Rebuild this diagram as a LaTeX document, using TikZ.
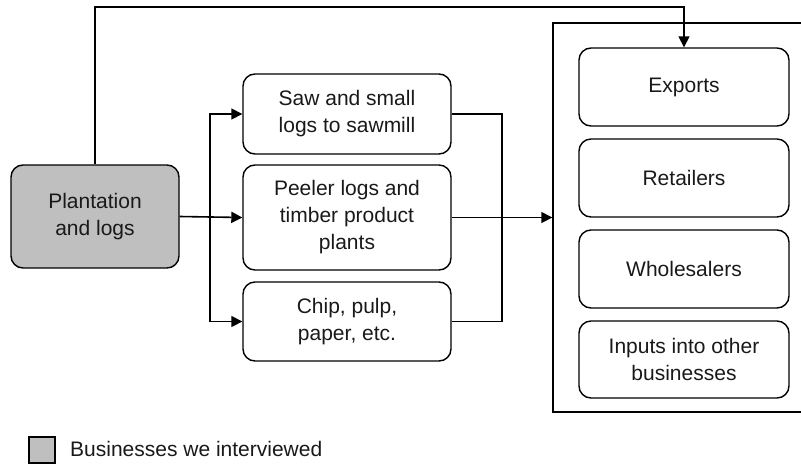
\documentclass[tikz,border=0pt]{standalone}
\usepackage{fontspec}
\setmainfont{Liberation Sans}
\usetikzlibrary{arrows.meta}
\begin{document}
\begin{tikzpicture}[x=1pt,y=-1pt,
  every node/.style={font=\fontsize{21}{27}\selectfont, align=center, text=black!90},
  rbox/.style={draw, rounded corners=12pt, line width=1.4pt, inner sep=0pt},
  conn/.style={line width=1.6pt},
  arr/.style={conn, -{Triangle[length=11pt,width=11pt]}}]
\useasboundingbox (0,0) rectangle (801,464);
\node[rbox, fill=black!25, minimum width=168pt, minimum height=103pt] (plant) at (95,216.5) {Plantation\\and logs};
\node[rbox, minimum width=208pt, minimum height=80pt] (saw) at (347,114) {Saw and small\\logs to sawmill};
\node[rbox, minimum width=208pt, minimum height=105pt] (peel) at (347,217.5) {Peeler logs and\\timber product\\plants};
\node[rbox, minimum width=208pt, minimum height=79pt] (chip) at (347,321.5) {Chip, pulp,\\paper, etc.};
\node[draw, line width=1.4pt, minimum width=287pt, minimum height=389pt, inner sep=0pt] (big) at (696.5,217.5) {};
\node[rbox, minimum width=210pt, minimum height=78pt] (exp) at (684,87) {Exports};
\node[rbox, minimum width=210pt, minimum height=78pt] (ret) at (684,178) {Retailers};
\node[rbox, minimum width=210pt, minimum height=78pt] (who) at (684,269) {Wholesalers};
\node[rbox, minimum width=210pt, minimum height=77pt] (inp) at (684,359.5) {Inputs into other\\businesses};
\coordinate (br) at (210,216.5);
\coordinate (mg) at (502,114);
\coordinate (top) at (95,7);
\draw[arr] (plant.east) -- (peel.west);
\draw[arr] (br) |- (saw.west);
\draw[arr] (br) |- (chip.west);
\draw[conn] (saw.east) -- (mg) |- (chip.east);
\draw[arr] (peel.east) -- (big.west |- peel.east);
\draw[arr] (plant.north) -- (top) -| (exp.north);
\node[draw, line width=1.4pt, fill=black!25, minimum size=26pt, inner sep=0pt] (leg) at (42,450) {};
\node[anchor=west, inner sep=0pt] (legt) at (70,449) {Businesses we interviewed};
\end{tikzpicture}
\end{document}
